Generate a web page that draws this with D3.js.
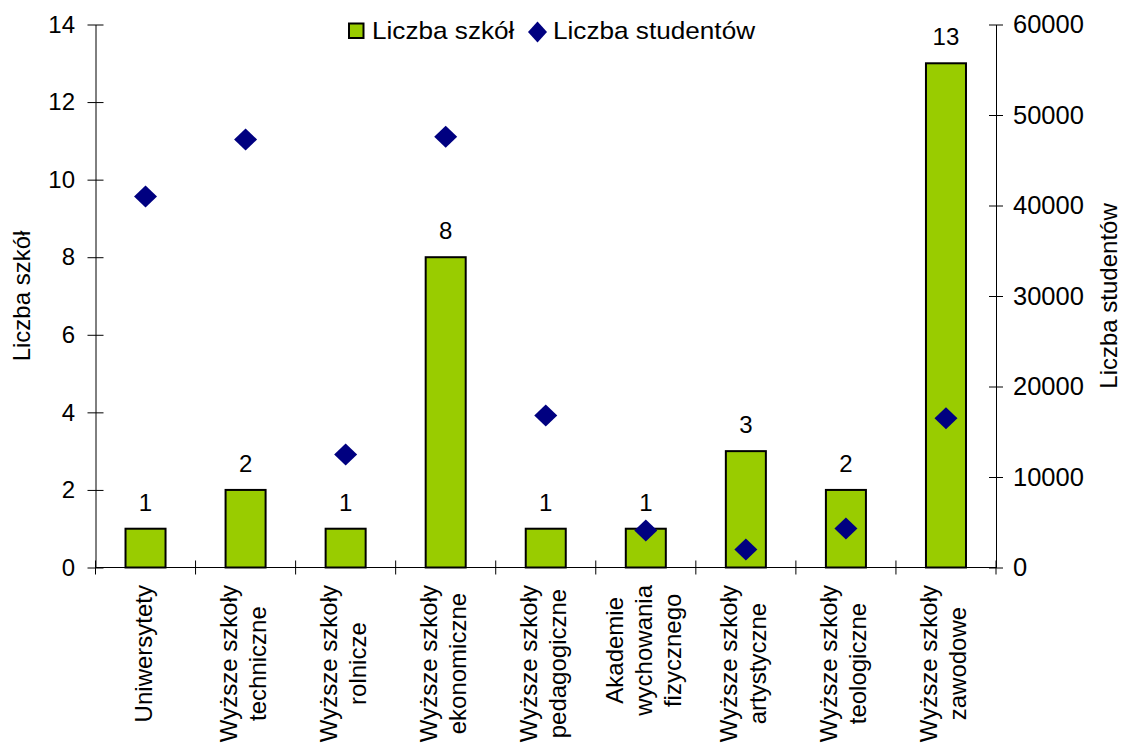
<!DOCTYPE html>
<html>
<head>
<meta charset="utf-8">
<script src="https://cdn.jsdelivr.net/npm/d3@7"></script>
<style>
  html, body { margin: 0; padding: 0; background: #fff; }
  svg { display: block; font-family: "Liberation Sans", Arial, sans-serif; }
</style>
</head>
<body>
<svg id="chart" width="1122" height="744"></svg>
<script>
// ---- data ----
const categories = [
  ["Uniwersytety"],
  ["Wyższe szkoły", "techniczne"],
  ["Wyższe szkoły", "rolnicze"],
  ["Wyższe szkoły", "ekonomiczne"],
  ["Wyższe szkoły", "pedagogiczne"],
  ["Akademie", "wychowania", "fizycznego"],
  ["Wyższe szkoły", "artystyczne"],
  ["Wyższe szkoły", "teologiczne"],
  ["Wyższe szkoły", "zawodowe"]
];
const schools = [1, 2, 1, 8, 1, 1, 3, 2, 13];
const students = [41000, 47300, 12500, 47600, 16800, 4100, 2000, 4300, 16500];
const leftTicks = [0, 2, 4, 6, 8, 10, 12, 14];
const rightTicks = [0, 10000, 20000, 30000, 40000, 50000, 60000];
const seriesNames = ["Liczba szkół", "Liczba studentów"];
const axisTitles = ["Liczba szkół", "Liczba studentów"];

// ---- layout ----
const svg = d3.select("#chart");
const barColor = "#99CC00";
const dotColor = "#000080";
const plotLeft = 95.5, plotRight = 996, plotTop = 24.5, plotBottom = 567.5;

const x = d3.scaleBand().domain(d3.range(categories.length)).range([plotLeft, plotRight]).padding(0);
const yL = d3.scaleLinear().domain([0, 14]).range([plotBottom, plotTop]);
const yR = d3.scaleLinear().domain([0, 60000]).range([plotBottom, plotTop]);
const bw = x.bandwidth();

function diamond(hw, hh) {
  return `M0,${-hh}L${hw},0L0,${hh}L${-hw},0Z`;
}

// bars
svg.append("g").selectAll("rect").data(schools).join("rect")
  .attr("x", (d, i) => x(i) + bw * 0.3)
  .attr("width", bw * 0.4)
  .attr("y", d => yL(d))
  .attr("height", d => yL(0) - yL(d))
  .attr("fill", barColor)
  .attr("stroke", "#000")
  .attr("stroke-width", 2);

// bar value labels
svg.append("g").selectAll("text").data(schools).join("text")
  .attr("x", (d, i) => x(i) + bw / 2)
  .attr("y", d => yL(d) - 18)
  .attr("text-anchor", "middle")
  .attr("font-size", 24)
  .text(d => d);

// left axis
const gL = svg.append("g").attr("transform", `translate(${plotLeft},0)`)
  .call(d3.axisLeft(yL).tickValues(leftTicks).tickSize(8).tickSizeOuter(0).tickPadding(12.5));
gL.selectAll(".tick line").attr("x1", 8).attr("stroke", "#000");
gL.select(".domain").attr("stroke", "#000");
gL.selectAll(".tick text").attr("font-size", 24).attr("font-family", "Liberation Sans, Arial, sans-serif").attr("fill", "#000");

// right axis
const gR = svg.append("g").attr("transform", `translate(${plotRight},0)`)
  .call(d3.axisRight(yR).tickValues(rightTicks).tickSize(7).tickSizeOuter(0).tickPadding(10).tickFormat(d3.format("d")));
gR.selectAll(".tick line").attr("x1", -7).attr("stroke", "#000");
gR.select(".domain").attr("stroke", "#000");
gR.selectAll(".tick text").attr("font-size", 25.5).attr("font-family", "Liberation Sans, Arial, sans-serif").attr("fill", "#000");

// x axis line and category boundary ticks
svg.append("line")
  .attr("x1", plotLeft).attr("x2", plotRight)
  .attr("y1", yL(0)).attr("y2", yL(0))
  .attr("stroke", "#000");
svg.append("g").selectAll("line").data(d3.range(categories.length + 1)).join("line")
  .attr("x1", i => plotLeft + i * x.step())
  .attr("x2", i => plotLeft + i * x.step())
  .attr("y1", yL(0) - 7).attr("y2", yL(0) + 7)
  .attr("stroke", "#000");

// category labels (rotated, multi-line)
const labelTop = yL(0) + 17.5;
const lineGap = 29;
categories.forEach((lines, i) => {
  const g = svg.append("g");
  const texts = lines.map(t => g.append("text")
    .attr("text-anchor", "middle")
    .attr("font-size", 24)
    .text(t));
  const maxLen = d3.max(texts, t => t.node().getComputedTextLength());
  const cy = labelTop + maxLen / 2;
  const cx = x(i) + bw / 2 + 6;
  const n = lines.length;
  texts.forEach((t, j) => {
    t.attr("transform", `translate(${cx + (j - (n - 1) / 2) * lineGap},${cy}) rotate(-90)`);
  });
});

// diamonds
svg.append("g").selectAll("path").data(students).join("path")
  .attr("d", diamond(11.5, 11))
  .attr("transform", (d, i) => `translate(${x(i) + bw / 2},${yR(d)})`)
  .attr("fill", dotColor);

// axis titles
svg.append("text")
  .attr("transform", `translate(30,${(plotTop + plotBottom) / 2}) rotate(-90)`)
  .attr("text-anchor", "middle")
  .attr("font-size", 24)
  .text(axisTitles[0]);
svg.append("text")
  .attr("transform", `translate(1117,${(plotTop + plotBottom) / 2}) rotate(-90)`)
  .attr("text-anchor", "middle")
  .attr("font-size", 24)
  .text(axisTitles[1]);

// legend
const lg = svg.append("g");
lg.append("rect").attr("x", 349).attr("y", 23.5).attr("width", 14.5).attr("height", 14.5)
  .attr("fill", barColor).attr("stroke", "#000").attr("stroke-width", 2);
lg.append("text").attr("transform", "translate(372,38.5) scale(1.09,1)")
  .attr("font-size", 24).text(seriesNames[0]);
lg.append("path").attr("d", diamond(9.5, 10.5))
  .attr("transform", "translate(537.5,32)").attr("fill", dotColor);
lg.append("text").attr("transform", "translate(553,38.5) scale(1.09,1)")
  .attr("font-size", 24).text(seriesNames[1]);
</script>
</body>
</html>
